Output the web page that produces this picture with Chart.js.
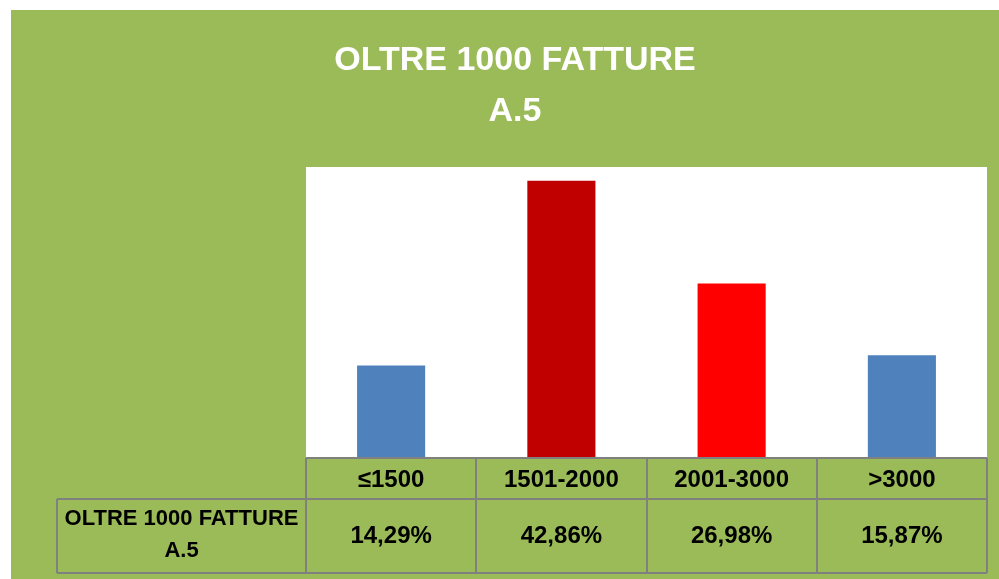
<!DOCTYPE html>
<html>
<head>
<meta charset="utf-8">
<script src="https://cdn.jsdelivr.net/npm/chart.js@4/dist/chart.umd.min.js"></script>
<style>
  html, body { margin: 0; padding: 0; background: #ffffff; }
  #wrap { width: 999px; height: 579px; position: relative; }
</style>
</head>
<body>
<div id="wrap"><canvas id="c" width="999" height="579"></canvas></div>
<script>
const titleLines = ["OLTRE 1000 FATTURE", "A.5"];
const categories = ["\u22641500", "1501-2000", "2001-3000", ">3000"];
const seriesName = ["OLTRE 1000 FATTURE", "A.5"];
const values = [14.29, 42.86, 26.98, 15.87];
const barColors = ["#4F81BD", "#C00000", "#FF0000", "#4F81BD"];

const GREEN = "#9BBB59";
const GRID = "#808080";
const FONT = "'Liberation Sans', Arial, sans-serif";

const fmt = v => v.toFixed(2).replace('.', ',') + '%';

const decor = {
  id: 'decor',
  beforeDraw(chart) {
    const ctx = chart.ctx;
    const a = chart.chartArea;
    ctx.save();
    ctx.fillStyle = GREEN;
    ctx.fillRect(11, 10, chart.width - 11, chart.height - 10);
    ctx.fillStyle = '#ffffff';
    ctx.fillRect(a.left, a.top, a.right - a.left, a.bottom - a.top);
    // title
    ctx.fillStyle = '#ffffff';
    ctx.font = "bold 34px " + FONT;
    ctx.textAlign = 'center';
    ctx.textBaseline = 'middle';
    ctx.fillText(titleLines[0], 515, 61);
    ctx.fillText(titleLines[1], 515, 112);
    ctx.restore();
  },
  afterDraw(chart) {
    const ctx = chart.ctx;
    const a = chart.chartArea;
    const xs = chart.scales.x;
    const n = categories.length;
    const cw = (a.right - a.left) / n;
    const top = a.bottom;
    const mid = top + 41;
    const bot = 573;
    const labelLeft = 57;
    ctx.save();
    ctx.strokeStyle = GRID;
    ctx.lineWidth = 2;
    ctx.beginPath();
    ctx.moveTo(a.left, top); ctx.lineTo(a.right, top);
    ctx.moveTo(labelLeft, mid); ctx.lineTo(a.right, mid);
    ctx.moveTo(labelLeft, bot); ctx.lineTo(a.right, bot);
    ctx.moveTo(labelLeft, mid); ctx.lineTo(labelLeft, bot);
    for (let i = 0; i < n; i++) {
      const x = Math.round(xs.getPixelForValue(i) - cw / 2);
      ctx.moveTo(x, top); ctx.lineTo(x, bot);
    }
    ctx.moveTo(a.right, top); ctx.lineTo(a.right, bot);
    ctx.stroke();
    // row label
    ctx.fillStyle = '#000000';
    ctx.textAlign = 'center';
    ctx.textBaseline = 'middle';
    ctx.font = "bold 22px " + FONT;
    const lx = (labelLeft + a.left) / 2;
    ctx.fillText(seriesName[0], lx, 519);
    ctx.fillText(seriesName[1], lx, 551);
    ctx.font = "bold 24px " + FONT;
    for (let i = 0; i < n; i++) {
      ctx.fillText(fmt(values[i]), xs.getPixelForValue(i), 536);
    }
    ctx.restore();
  }
};

new Chart(document.getElementById('c'), {
  type: 'bar',
  data: {
    labels: categories,
    datasets: [{
      label: seriesName.join(' '),
      data: values,
      backgroundColor: barColors,
      borderWidth: 0,
      categoryPercentage: 1.0,
      barPercentage: 0.4
    }]
  },
  options: {
    responsive: false,
    animation: false,
    devicePixelRatio: 1,
    layout: { padding: { left: 306, right: 12, top: 167, bottom: 80 } },
    plugins: {
      legend: { display: false },
      title: { display: false },
      tooltip: { enabled: false }
    },
    scales: {
      x: {
        display: true,
        grid: { display: false, drawTicks: false },
        border: { display: false },
        ticks: {
          color: '#000000',
          font: { family: FONT, size: 24, weight: 'bold' },
          padding: 8,
          maxRotation: 0,
          autoSkip: false
        },
        afterFit: s => { s.height = 41; }
      },
      y: {
        display: false,
        min: 0,
        max: 45
      }
    }
  },
  plugins: [decor]
});
</script>
</body>
</html>
